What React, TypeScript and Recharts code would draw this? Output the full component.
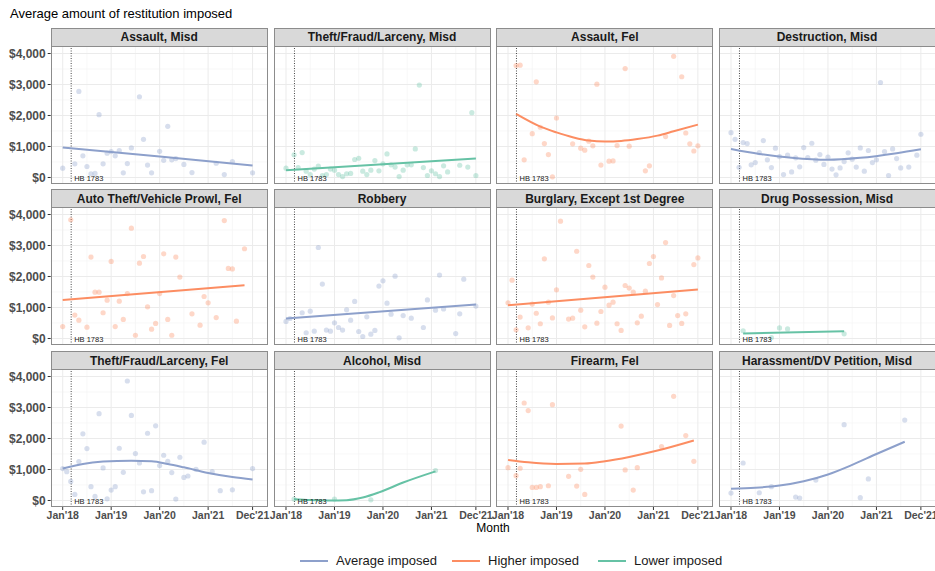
import React from 'react';
import { ComposedChart, Scatter, Line, XAxis, YAxis, ReferenceLine } from 'recharts';

// x values are months since Jan 2018, y values are dollars
const monthTicks = [0, 12, 24, 36, 47];
const monthLabels = ["Jan'18", "Jan'19", "Jan'20", "Jan'21", "Dec'21"];
const minorMonths = [6, 18, 30, 42];
const dollarTicks = [0, 1000, 2000, 3000, 4000];
const minorDollars = [500, 1500, 2500, 3500];
const hbMonth = 2.1;

const seriesNames = ['Average imposed', 'Higher imposed', 'Lower imposed'];
const seriesColors = ['#8DA0CB', '#FC8D62', '#66C2A5'];

const assaultMisdPts = [[0,300],[3,440],[4,2775],[5,700],[6,355],[7,120],[8,130],[9,2025],[10,440],[11,785],[12,835],[13,700],[14,870],[15,150],[16,450],[17,955],[19,2605],[20,1230],[21,400],[22,150],[24,845],[25,555],[26,1650],[27,570],[28,610],[30,420],[32,160],[38,460],[40,95],[42,515],[47,150]];
const assaultMisdFit = [[0,965],[24,675],[47,385]];

const theftMisdPts = [[0,300],[2,730],[3,320],[4,805],[5,205],[6,95],[7,270],[8,365],[9,65],[10,95],[11,270],[12,235],[13,95],[14,30],[15,120],[16,130],[17,580],[18,620],[19,205],[20,95],[21,235],[22,545],[23,215],[24,440],[25,760],[26,410],[27,335],[28,30],[29,235],[30,410],[31,410],[32,920],[33,2980],[34,320],[35,65],[36,215],[37,120],[38,30],[39,375],[40,180],[43,395],[45,335],[46,2090],[47,65]];
const theftMisdFit = [[0,236],[47,611]];

const assaultFelPts = [[2,3610],[3,3625],[4,570],[6,1415],[7,3085],[8,1620],[9,1095],[10,740],[11,20],[12,1920],[16,1085],[18,945],[19,880],[20,1170],[21,1020],[22,3010],[23,400],[25,525],[26,535],[27,1030],[29,3515],[30,1010],[34,215],[35,375],[39,1320],[41,3910],[43,3250],[44,1435],[45,1085],[46,855],[47,1020]];
const assaultFelFit = [[2,2050],[8,1640],[12,1455],[16,1300],[20,1190],[24,1160],[28,1180],[32,1240],[37,1350],[41,1490],[47,1705]];

const destructionPts = [[0,1445],[1,1230],[2,330],[3,1125],[4,1095],[5,410],[6,480],[7,805],[8,1190],[9,570],[10,320],[11,945],[12,675],[13,95],[14,720],[15,180],[16,635],[17,345],[18,965],[19,645],[20,1105],[21,560],[22,740],[23,420],[24,655],[25,270],[26,85],[27,310],[28,515],[29,795],[30,590],[31,335],[32,955],[33,205],[34,870],[35,480],[36,570],[37,3065],[38,835],[39,65],[40,920],[41,610],[42,310],[44,335],[46,720],[47,1395]];
const destructionFit = [[0,920],[7,760],[15,635],[24,570],[32,635],[41,785],[47,910]];

const autoTheftPts = [[0,385],[2,3830],[3,755],[4,590],[6,365],[7,2625],[8,1495],[9,1495],[10,830],[11,1235],[12,2485],[13,385],[14,1205],[15,615],[16,1450],[17,3560],[18,105],[19,2430],[20,2645],[21,1020],[22,300],[23,485],[24,1450],[25,2730],[26,615],[27,105],[28,2625],[29,1980],[32,795],[34,430],[35,1355],[36,1150],[38,675],[40,3805],[41,2260],[42,2245],[43,560],[45,2895]];
const autoTheftFit = [[0,1245],[45,1720]];

const robberyPts = [[0,550],[1,645],[4,830],[5,185],[6,880],[7,235],[8,2935],[9,1755],[10,270],[11,235],[12,505],[13,355],[14,270],[15,925],[16,590],[17,1195],[18,225],[19,65],[20,700],[21,140],[22,260],[23,1690],[24,1860],[25,1140],[26,785],[27,2010],[28,20],[29,740],[31,655],[34,355],[35,1245],[37,915],[38,2045],[39,955],[42,160],[43,795],[44,1915],[47,1045]];
const robberyFit = [[0,645],[47,1095]];

const burglaryPts = [[0,1150],[1,1880],[2,280],[3,690],[5,345],[6,1110],[7,815],[8,475],[9,2570],[10,1170],[11,665],[12,1570],[13,3785],[15,625],[16,655],[17,2815],[18,915],[19,375],[20,2355],[21,1980],[22,495],[23,870],[24,1655],[25,1075],[26,1170],[27,475],[28,260],[29,1710],[30,1625],[31,1495],[32,505],[33,720],[34,1525],[35,2420],[36,2645],[37,1095],[38,1955],[39,3095],[40,420],[41,1385],[42,740],[43,485],[44,795],[46,2385],[47,2600]];
const burglaryFit = [[0,1075],[47,1580]];

const drugPts = [[3,250],[10,30],[12,340],[14,310],[28,150]];
const drugFit = [[3,160],[28,235]];

const theftFelPts = [[0,1030],[1,930],[2,615],[3,195],[4,1255],[5,2150],[6,1675],[7,445],[8,130],[9,2800],[10,1050],[11,55],[12,335],[13,445],[14,1685],[15,910],[16,3855],[17,2745],[18,1515],[19,1210],[20,280],[21,2170],[22,315],[23,2410],[24,1125],[25,1460],[26,1265],[27,900],[28,45],[29,1395],[30,745],[31,790],[33,1005],[35,1880],[37,930],[39,315],[42,345],[47,1030]];
const theftFelFit = [[0,1030],[5,1180],[10,1255],[17,1285],[22,1265],[26,1180],[30,1070],[36,890],[42,760],[47,680]];

const alcoholPts = [[2,45],[12,45],[21,20],[37,965]];
const alcoholFit = [[2,40],[6,15],[11,0],[15,10],[19,95],[23,260],[29,580],[37,940]];

const firearmPts = [[0,1060],[2,800],[3,1040],[4,3145],[5,2900],[6,420],[7,420],[8,445],[10,475],[11,3090],[15,780],[17,465],[18,1005],[19,195],[28,2400],[29,985],[31,335],[32,1060],[38,1740],[41,3360],[44,2095],[46,1265]];
const firearmFit = [[0,1310],[5,1230],[12,1180],[19,1190],[24,1265],[30,1405],[37,1610],[46,1935]];

const harassPts = [[0,240],[3,1210],[7,250],[10,445],[16,110],[17,80],[21,660],[28,2445],[32,90],[34,695],[43,2595]];
const harassFit = [[0,380],[6,410],[12,480],[18,620],[24,840],[30,1150],[36,1500],[43,1895]];

const panelTitles = [
  'Assault, Misd', 'Theft/Fraud/Larceny, Misd', 'Assault, Fel', 'Destruction, Misd',
  'Auto Theft/Vehicle Prowl, Fel', 'Robbery', 'Burglary, Except 1st Degree', 'Drug Possession, Misd',
  'Theft/Fraud/Larceny, Fel', 'Alcohol, Misd', 'Firearm, Fel', 'Harassment/DV Petition, Misd',
];
// 0 = average, 1 = higher, 2 = lower
const panelSeries = [0, 2, 1, 0, 1, 0, 1, 2, 0, 2, 1, 0];
const panelPoints = [assaultMisdPts, theftMisdPts, assaultFelPts, destructionPts, autoTheftPts, robberyPts, burglaryPts, drugPts, theftFelPts, alcoholPts, firearmPts, harassPts];
const panelFits = [assaultMisdFit, theftMisdFit, assaultFelFit, destructionFit, autoTheftFit, robberyFit, burglaryFit, drugFit, theftFelFit, alcoholFit, firearmFit, harassFit];

const FONT = '"Liberation Sans", Arial, sans-serif';
const PANEL_W = 217;
const PLOT_H = 138;
const STRIP_H = 18;
const COL_LEFT = [50.7, 273.5, 496.3, 718.5];
const ROW_TOP = [45.5, 207.3, 369.1];
const Y_AXIS_W = 50.7;
const X_AXIS_H = 26;
const X_PAD = 22;
const X_DOMAIN = [-2.97, 50.74];
const Y_DOMAIN = [-210, 4242];
const BORDER = '#8c8c8c';

const yTickStyle = { fontSize: 12, fontWeight: 'bold', fill: '#4D4D4D', fontFamily: FONT };
const xTickStyle = { fontSize: 10.5, fontWeight: 'bold', fill: '#4D4D4D', fontFamily: FONT };

function Panel({ idx }: { idx: number }) {
  const col = idx % 4;
  const row = Math.floor(idx / 4);
  const showY = col === 0;
  const showX = row === 2;
  // extra room so the bottom tick labels are not cut at the panel edge
  const padL = showX && !showY ? X_PAD : 0;
  const padR = showX ? X_PAD : 0;
  const w = PANEL_W + (showY ? Y_AXIS_W : 0) + padL + padR;
  const h = PLOT_H + (showX ? X_AXIS_H : 0);
  const left = COL_LEFT[col] - (showY ? Y_AXIS_W : 0) - padL;
  const top = ROW_TOP[row];
  const color = seriesColors[panelSeries[idx]];
  const pts = panelPoints[idx].map(([m, v]) => ({ m, v }));
  const fit = panelFits[idx].map(([m, v]) => ({ m, v }));

  return (
    <>
      <div
        style={{
          position: 'absolute', left: COL_LEFT[col], top: top - STRIP_H, width: PANEL_W, height: STRIP_H + 1,
          background: '#D9D9D9', border: `1px solid ${BORDER}`, boxSizing: 'border-box',
          fontFamily: FONT, fontSize: 12, fontWeight: 'bold', color: '#1A1A1A',
          display: 'flex', alignItems: 'center', justifyContent: 'center', whiteSpace: 'nowrap',
        }}
      >
        {panelTitles[idx]}
      </div>
      <div style={{ position: 'absolute', left, top }}>
        <ComposedChart width={w} height={h} margin={{ top: 0, right: padR, bottom: 0, left: padL }}>
          <XAxis
            type="number" dataKey="m" domain={X_DOMAIN} allowDataOverflow ticks={monthTicks} interval={0}
            tickFormatter={(v) => monthLabels[monthTicks.indexOf(v)]}
            hide={!showX} height={X_AXIS_H} tickSize={3} tickMargin={2} axisLine={false}
            tickLine={{ stroke: '#333' }} tick={xTickStyle}
          />
          <YAxis
            type="number" dataKey="v" domain={Y_DOMAIN} allowDataOverflow ticks={dollarTicks} interval={0}
            tickFormatter={(v) => '$' + v.toLocaleString('en-US')}
            hide={!showY} width={Y_AXIS_W} tickSize={3} tickMargin={2} axisLine={false}
            tickLine={{ stroke: '#333' }} tick={yTickStyle}
          />
          {minorDollars.map((d) => (
            <ReferenceLine key={'ym' + d} y={d} stroke="#F3F3F3" strokeWidth={0.7} />
          ))}
          {minorMonths.map((m) => (
            <ReferenceLine key={'xm' + m} x={m} stroke="#F3F3F3" strokeWidth={0.7} />
          ))}
          {dollarTicks.map((d) => (
            <ReferenceLine key={'y' + d} y={d} stroke="#EBEBEB" strokeWidth={1} />
          ))}
          {monthTicks.map((m) => (
            <ReferenceLine key={'x' + m} x={m} stroke="#EBEBEB" strokeWidth={1} />
          ))}
          <ReferenceLine
            x={hbMonth} stroke="#333" strokeWidth={0.9} strokeDasharray="1 1.5"
            label={{ value: 'HB 1783', position: 'insideBottomLeft', offset: 3, fontSize: 7.5, fill: '#1A1A1A', fontFamily: FONT }}
          />
          <Scatter
            data={pts} isAnimationActive={false}
            shape={(p: any) => <circle cx={p.cx} cy={p.cy} r={2.6} fill={color} fillOpacity={0.35} />}
          />
          <Line
            data={fit} dataKey="v" type="monotone" stroke={color} strokeWidth={2}
            dot={false} activeDot={false} isAnimationActive={false}
          />
        </ComposedChart>
      </div>
      <div
        style={{
          position: 'absolute', left: COL_LEFT[col], top, width: PANEL_W, height: PLOT_H,
          border: `1px solid ${BORDER}`, boxSizing: 'border-box', pointerEvents: 'none',
        }}
      />
    </>
  );
}

const legendKeyX = [300, 452, 598];
const legendTextX = [336, 488, 634];

export default function App() {
  return (
    <div style={{ position: 'absolute', left: 0, top: 0, width: 935, height: 571, background: '#fff', overflow: 'hidden', fontFamily: FONT }}>
      <div style={{ position: 'absolute', left: 10, top: 6, fontSize: 13, color: '#000' }}>
        Average amount of restitution imposed
      </div>
      {panelTitles.map((_, i) => (
        <Panel key={i} idx={i} />
      ))}
      <div style={{ position: 'absolute', left: 463, width: 60, top: 521, textAlign: 'center', fontSize: 12, color: '#000' }}>
        Month
      </div>
      {seriesNames.map((name, i) => (
        <React.Fragment key={name}>
          <div style={{ position: 'absolute', left: legendKeyX[i], top: 560, width: 28, height: 2, background: seriesColors[i] }} />
          <div style={{ position: 'absolute', left: legendTextX[i], top: 553, fontSize: 13, color: '#1A1A1A', whiteSpace: 'nowrap' }}>
            {name}
          </div>
        </React.Fragment>
      ))}
    </div>
  );
}
